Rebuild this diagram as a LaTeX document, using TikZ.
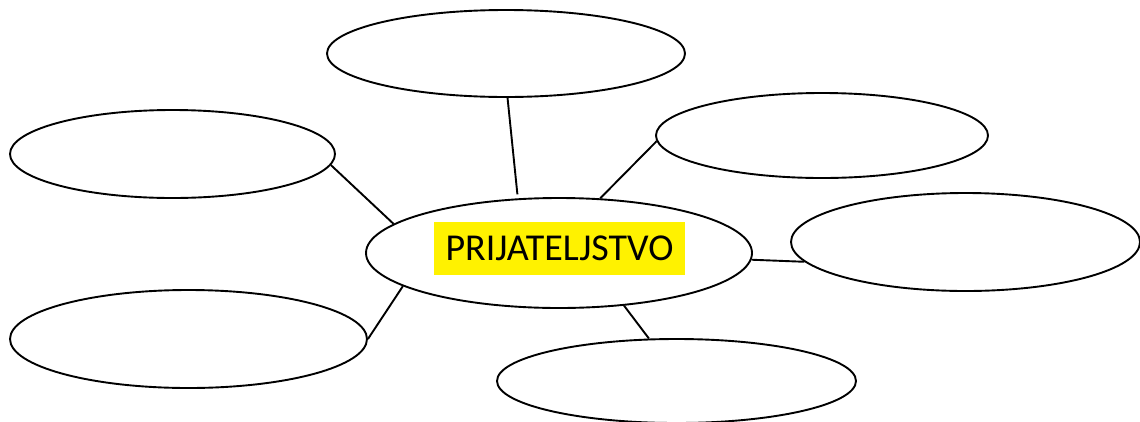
\documentclass[tikz,border=0pt]{standalone}
\usepackage{fontspec}
\setmainfont{Carlito}
\usetikzlibrary{shapes.geometric}
\tikzset{bubble/.style={draw, ellipse, line width=1.9pt, inner sep=0pt}}
\begin{document}
\begin{tikzpicture}[x=1pt, y=-1pt, line width=1.9pt]
  \useasboundingbox (0,0) rectangle (1140,421);
  \node[bubble, minimum width=386pt, minimum height=110pt] (c) at (559,253) {};
  \node[fill=yellow, minimum width=251pt, minimum height=53pt, inner sep=0pt,
        font=\fontsize{38}{40}\selectfont] (lbl) at (559.5,248.5) {PRIJATELJSTVO};
  \node[bubble, minimum width=358pt, minimum height=87pt] (t) at (506,53.5) {};
  \node[bubble, minimum width=325pt, minimum height=88pt] (tl) at (172.5,154) {};
  \node[bubble, minimum width=332pt, minimum height=85pt] (tr) at (822,135.5) {};
  \node[bubble, minimum width=349pt, minimum height=98pt] (r) at (965.5,242) {};
  \node[bubble, minimum width=357pt, minimum height=98pt] (bl) at (188.5,339) {};
  \node[bubble, minimum width=359pt, minimum height=84pt] (b) at (676.5,381) {};
  \draw[shorten >=4pt] (t.-88.7) -- (c.127.8);
  \draw (tl.-4.7) -- (c.170);
  \draw (tr.-178.4) -- (c.53.3);
  \draw (r.-173.8) -- (c.-2.7);
  \draw (bl.0.6) -- (c.-168);
  \draw (b.123.2) -- (c.-39.5);
\end{tikzpicture}
\end{document}
